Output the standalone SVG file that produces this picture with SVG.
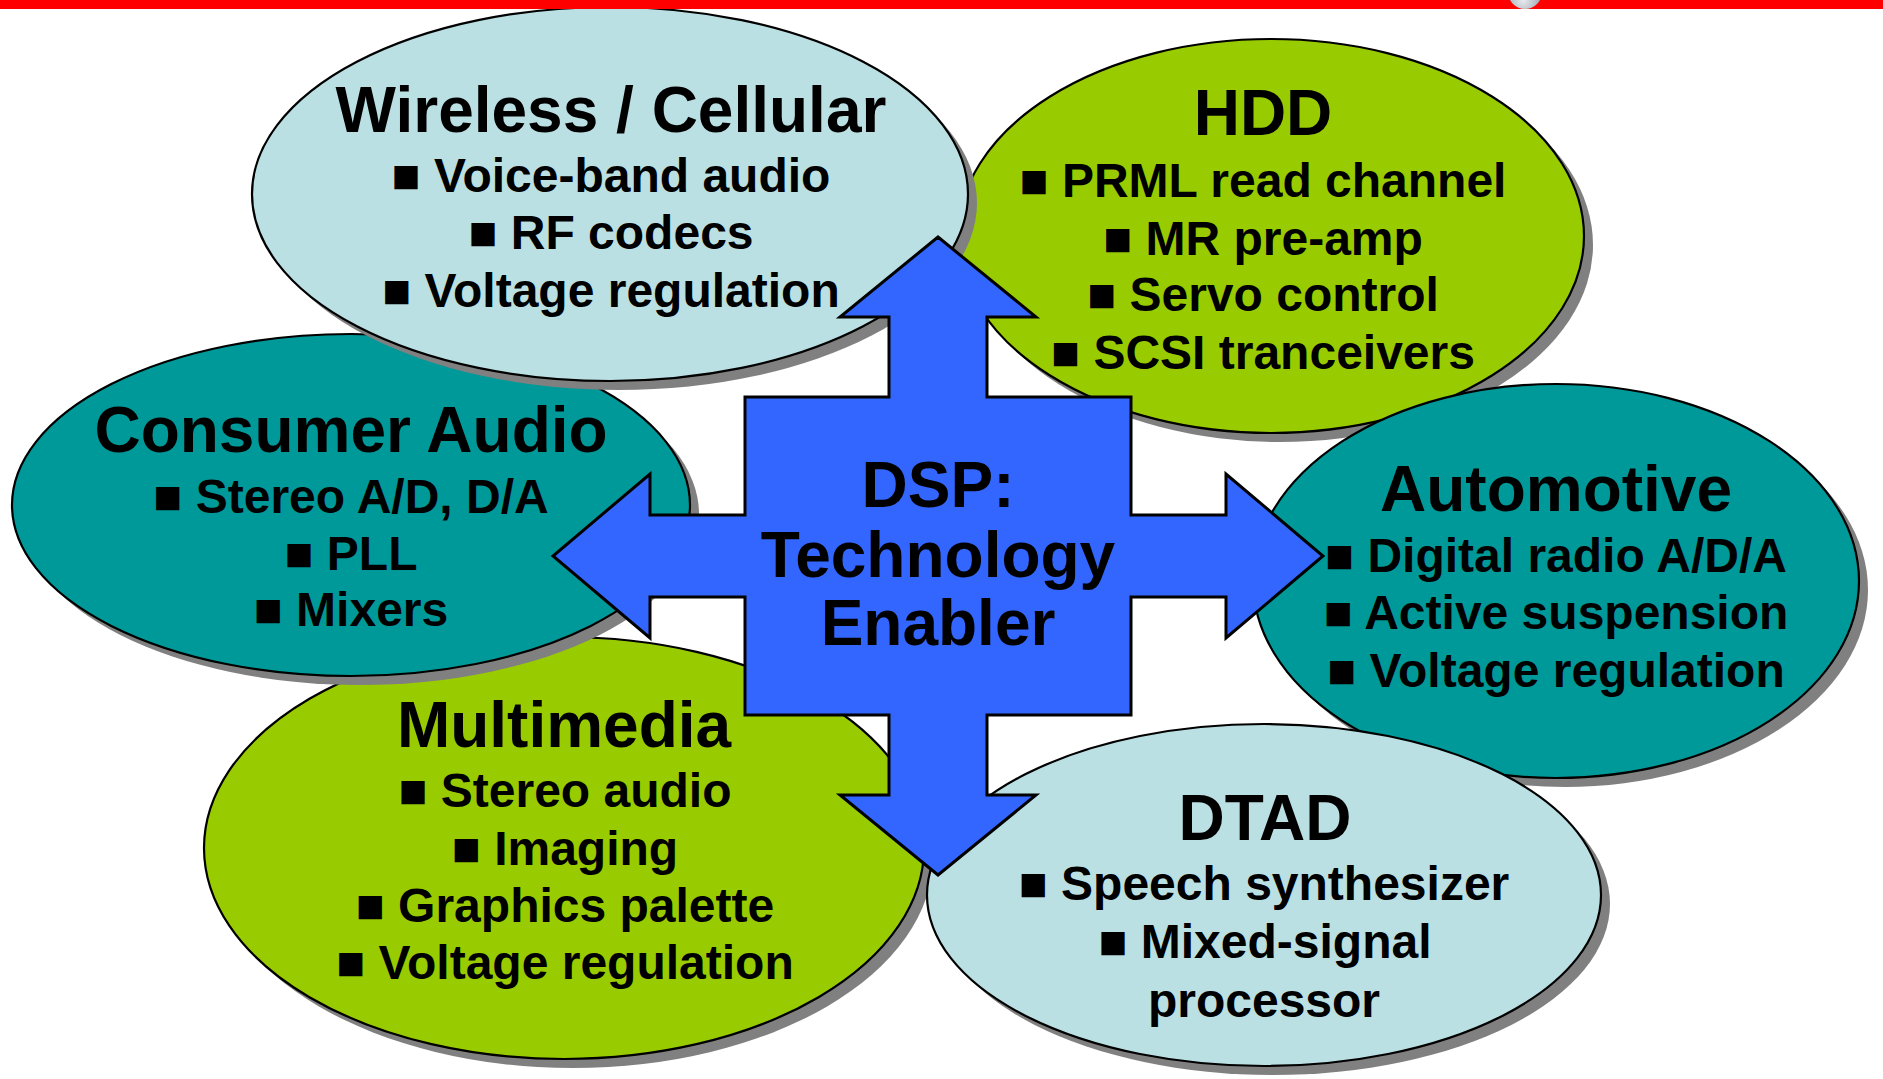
<svg xmlns="http://www.w3.org/2000/svg" width="1883" height="1079" viewBox="0 0 1883 1079">
<defs>
<radialGradient id="ball" cx="0.45" cy="0.75" r="0.65">
<stop offset="0" stop-color="#e8eaee"/>
<stop offset="1" stop-color="#9098a4"/>
</radialGradient>
<style>
.sh{fill:#808080;stroke:none}
.el{stroke:#000;stroke-width:2.2}
.lb{fill:#BBE0E3}
.gr{fill:#99CC00}
.tl{fill:#009999}
text{font-family:"Liberation Sans",Arial,sans-serif;font-weight:bold;fill:#000;text-anchor:middle}
.t{font-size:64px}
.i{font-size:48px}
.arrow{fill:#3366FF;stroke:#000;stroke-width:3;stroke-linejoin:miter}
</style>
</defs>
<rect x="0" y="0" width="1883" height="1079" fill="#fff"/>
<g id="multimedia">
<ellipse class="sh" cx="573" cy="857" rx="360" ry="211"/>
<ellipse class="el gr" cx="564" cy="848" rx="360" ry="211"/>
<text class="t" x="564" y="747">Multimedia</text>
<text class="i" x="565" y="807">■ Stereo audio</text>
<text class="i" x="565" y="865">■ Imaging</text>
<text class="i" x="565" y="922">■ Graphics palette</text>
<text class="i" x="565" y="979">■ Voltage regulation</text>
</g>
<g id="consumer-audio">
<ellipse class="sh" cx="360" cy="514" rx="339" ry="171"/>
<ellipse class="el tl" cx="351" cy="505" rx="339" ry="171"/>
<text class="t" x="351" y="452">Consumer Audio</text>
<text class="i" x="351" y="513">■ Stereo A/D, D/A</text>
<text class="i" x="351" y="570">■ PLL</text>
<text class="i" x="351" y="626">■ Mixers</text>
</g>
<g id="hdd">
<ellipse class="sh" cx="1280" cy="245" rx="313" ry="197"/>
<ellipse class="el gr" cx="1271" cy="236" rx="313" ry="197"/>
<text class="t" x="1263" y="135">HDD</text>
<text class="i" x="1263" y="197">■ PRML read channel</text>
<text class="i" x="1263" y="255">■ MR pre-amp</text>
<text class="i" x="1263" y="311">■ Servo control</text>
<text class="i" x="1263" y="369">■ SCSI tranceivers</text>
</g>
<g id="wireless-cellular">
<ellipse class="sh" cx="619" cy="203" rx="358" ry="187"/>
<ellipse class="el lb" cx="610" cy="194" rx="358" ry="187"/>
<text class="t" x="611" y="132">Wireless / Cellular</text>
<text class="i" x="611" y="192">■ Voice-band audio</text>
<text class="i" x="611" y="249">■ RF codecs</text>
<text class="i" x="611" y="307">■ Voltage regulation</text>
</g>
<g id="automotive">
<ellipse class="sh" cx="1565" cy="590" rx="303" ry="197"/>
<ellipse class="el tl" cx="1556" cy="581" rx="303" ry="197"/>
<text class="t" x="1556" y="511">Automotive</text>
<text class="i" x="1556" y="572">■ Digital radio A/D/A</text>
<text class="i" x="1556" y="629">■ Active suspension</text>
<text class="i" x="1556" y="687">■ Voltage regulation</text>
</g>
<g id="dtad">
<ellipse class="sh" cx="1273" cy="904" rx="337" ry="171"/>
<ellipse class="el lb" cx="1264" cy="895" rx="337" ry="171"/>
<text class="t" x="1265" y="840">DTAD</text>
<text class="i" x="1264" y="900">■ Speech synthesizer</text>
<text class="i" x="1265" y="958">■ Mixed-signal</text>
<text class="i" x="1264" y="1017">processor</text>
</g>
<g id="connectors"/>
<g id="dsp-technology-enabler">
<path class="arrow" d="M938,237 L1036,317 L987,317 L987,397 L1131,397 L1131,515 L1226,515 L1226,474 L1323,556 L1226,638 L1226,597 L1131,597 L1131,715 L987,715 L987,795 L1036,795 L938,875 L840,795 L889,795 L889,715 L745,715 L745,597 L650,597 L650,638 L553,556 L650,474 L650,515 L745,515 L745,397 L889,397 L889,317 L840,317 Z"/>
<text class="t" x="938" y="507">DSP:</text>
<text class="t" x="938" y="577">Technology</text>
<text class="t" x="938" y="645">Enabler</text>
</g>
<g id="header">
<rect x="0" y="0" width="1883" height="9" fill="#FF0000"/>
<circle cx="1525" cy="-8" r="17" fill="url(#ball)"/>
</g>
</svg>
